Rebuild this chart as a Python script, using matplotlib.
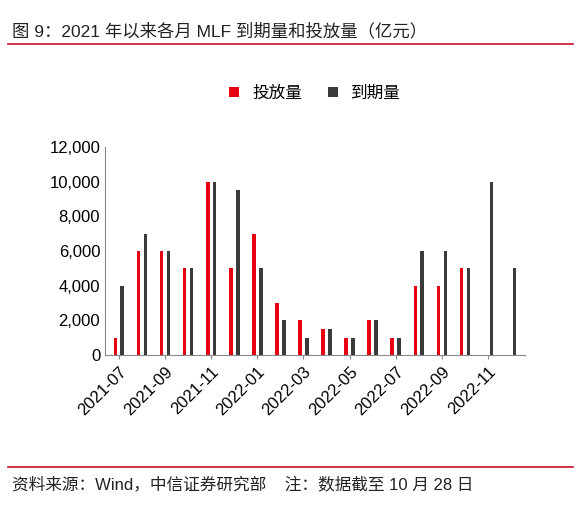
import matplotlib
matplotlib.use("Agg")
import matplotlib.pyplot as plt
import numpy as np
from matplotlib.lines import Line2D

plt.rcParams['font.family'] = ['Liberation Sans', 'Noto Sans CJK SC', 'DejaVu Sans']

months = ["2021-07","2021-08","2021-09","2021-10","2021-11","2021-12",
          "2022-01","2022-02","2022-03","2022-04","2022-05","2022-06",
          "2022-07","2022-08","2022-09","2022-10","2022-11","2022-12"]
put = [1000,6000,6000,5000,10000,5000,7000,3000,2000,1500,1000,2000,1000,4000,4000,5000,0,0]
expire = [4000,7000,6000,5000,10000,9500,5000,2000,1000,1500,1000,2000,1000,6000,6000,5000,10000,5000]

fig = plt.figure(figsize=(5.81,5.07), dpi=100)
ax = fig.add_axes([105/581, 1-355/507, 420/581, 208/507])
x = np.arange(len(months))
w = 0.16
ax.bar(x - 0.15, put, w, color='#E60012', label='投放量')
ax.bar(x + 0.15, expire, w, color='#3A3A3A', label='到期量')
ax.set_xlim(-0.6, len(months)-0.4)
ax.set_ylim(0, 12000)
ax.set_yticks(range(0, 12001, 2000))
ax.set_yticklabels([f"{v:,}" for v in range(0, 12001, 2000)], fontsize=12)
ax.set_xticks(x[::2])
ax.set_xticklabels(months[::2], rotation=45, ha='right', rotation_mode='anchor', fontsize=12)
for s in ['top','right']:
    ax.spines[s].set_visible(False)
ax.spines['left'].set_color('#888888')
ax.spines['bottom'].set_color('#888888')
ax.tick_params(axis='y', length=0)
ax.tick_params(axis='x', length=3, color='#888888')
ax.legend(loc='lower center', bbox_to_anchor=(0.5, 1.15), ncol=2, frameon=False,
          fontsize=12, handlelength=0.6, handleheight=0.6, columnspacing=1.5)

fig.text(12/581, 1-31/507, "图 9：2021 年以来各月 MLF 到期量和投放量（亿元）", fontsize=12.5, va='center', color='#222222')
fig.add_artist(Line2D([8/581, 573/581], [1-44/507, 1-44/507], color='#C8102E', lw=1.2))
fig.add_artist(Line2D([8/581, 573/581], [1-467/507, 1-467/507], color='#C8102E', lw=1.2))
fig.text(12/581, 1-484/507, "资料来源：Wind，中信证券研究部    注：数据截至 10 月 28 日", fontsize=12, va='center', color='#222222')
fig.savefig("out.png", dpi=100)
